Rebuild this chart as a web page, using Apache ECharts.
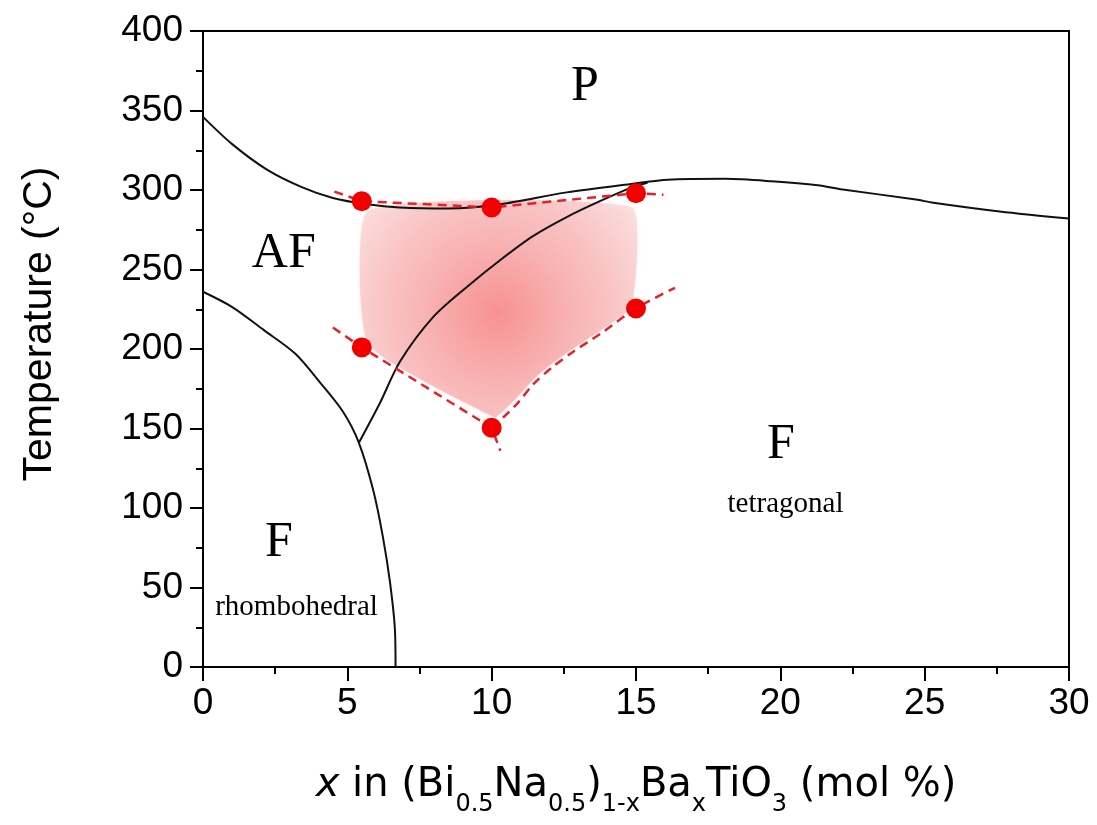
<!doctype html>
<html>
<head>
    <meta charset="utf-8">
    <title>BNT-BT phase diagram</title>
    <script src="https://cdn.jsdelivr.net/npm/echarts@6/dist/echarts.min.js"></script>
    <style>
        html, body { margin: 0; padding: 0; background: #fff; }
        #Chart { width: 1097px; height: 825px; }
    </style>
</head>
<body>
    <div id="Chart"></div>
<script>
    // phase boundaries, [x mol%, T degC]
    var pBoundary = [[0, 346], [1, 329], [2.2, 313], [3.4, 302], [4.5, 295], [5.7, 291], [6.8, 289], [8.5, 288.3],
        [10.3, 291], [12.6, 298.5], [14.9, 304], [16.1, 306.5], [18.1, 307], [19.7, 305.5], [21.3, 303],
        [22.1, 300.5], [24.7, 294], [25.3, 292], [27.6, 286.5], [30, 282]];
    var afBoundary = [[0, 236], [1, 226.5], [2.1, 212], [3.2, 197], [4.05, 179], [4.85, 160.5], [5.4, 141],
        [5.9, 111], [6.23, 82], [6.48, 53], [6.65, 23], [6.67, 0]];
    var mpbBoundary = [[5.4, 141], [6.13, 166], [6.82, 192], [7.97, 220], [9.14, 239], [10.3, 256],
        [11.43, 271], [12.6, 283], [13.75, 293], [14.9, 302], [15.4, 304.5]];

    // measured points and guide lines
    var measured = [[5.5, 293], [10, 289], [15, 298], [5.5, 201], [10, 150.5], [15, 225.5]];
    var upperGuide = [[4.55, 299], [5.5, 293], [10, 289], [15, 298], [15.95, 297]];
    var lowerLeftGuide = [[4.5, 213.5], [5.5, 201], [10, 150.5], [10.3, 136]];
    var lowerRightGuide = [[10, 150.5], [10.4, 157], [10.9, 166], [11.45, 178], [12.1, 188.5], [12.8, 198],
        [13.8, 210], [15, 225.5], [16.35, 238.5]];

    // shaded region
    var shadedRegion = [[5.72, 287], [14.86, 289], [14.86, 227], [13.8, 212], [12.8, 200], [12.1, 191],
        [11.45, 181], [10.9, 170], [10.4, 161], [10.1, 157], [5.72, 203]];
    var shadeCenter = [10.2, 223];

    // region labels
    var regionLabels = ['P', 'AF', 'F', 'F'];
    var regionLabelPos = [[13.23, 365], [2.8, 260], [2.63, 78], [20.02, 139.5]];
    var phaseNotes = ['rhombohedral', 'tetragonal'];
    var phaseNotePos = [[3.24, 37.5], [20.18, 102]];

    var xTicks = { min: 0, max: 30, interval: 5 };
    var yTicks = { min: 0, max: 400, interval: 50 };

    function labelData(names, pos) {
        var out = [];
        for (var i = 0; i < names.length; i++) {
            out.push({ name: names[i], value: pos[i] });
        }
        return out;
    }

    function blackLine(data) {
        return {
            type: 'line',
            data: data,
            smooth: 0.3,
            symbol: 'none',
            z: 3,
            lineStyle: { color: '#111', width: 2 }
        };
    }

    function redDash(data, smooth) {
        return {
            type: 'line',
            data: data,
            smooth: smooth,
            symbol: 'none',
            z: 4,
            lineStyle: { color: '#e8202a', width: 2.5, type: [9, 6] }
        };
    }

    var myChart = echarts.init(document.getElementById('Chart'));
    var sans = 'Liberation Sans, Arial, sans-serif';
    var serif = 'Liberation Serif, Times New Roman, serif';

    var option = {
        animation: false,
        grid: {
            left: 203, right: 28, top: 31, bottom: 158,
            show: true, borderColor: '#000', borderWidth: 2
        },
        xAxis: {
            type: 'value',
            min: xTicks.min, max: xTicks.max, interval: xTicks.interval,
            name: '{i|x} in (Bi{s|0.5}Na{s|0.5}){s|1-x}Ba{s|x}TiO{s|3} (mol %)',
            nameLocation: 'middle',
            nameGap: 88,
            nameTextStyle: {
                color: '#000', fontSize: 40, fontFamily: 'DejaVu Sans, sans-serif',
                rich: {
                    i: { fontSize: 40, fontStyle: 'italic', fontFamily: 'DejaVu Sans, sans-serif', color: '#000' },
                    s: { fontSize: 24, fontFamily: 'DejaVu Sans, sans-serif', color: '#000', padding: [38, 0, 0, 0] }
                }
            },
            axisLine: { lineStyle: { color: '#000', width: 2 } },
            axisTick: { length: 14, lineStyle: { color: '#000', width: 2 } },
            minorTick: { show: true, splitNumber: 2, length: 7, lineStyle: { color: '#000', width: 2 } },
            splitLine: { show: false },
            axisLabel: { color: '#000', fontSize: 37, fontFamily: sans, margin: 18, showMinLabel: true, showMaxLabel: true }
        },
        yAxis: {
            type: 'value',
            min: yTicks.min, max: yTicks.max, interval: yTicks.interval,
            name: 'Temperature (°C)',
            nameLocation: 'middle',
            nameGap: 143,
            nameTextStyle: { color: '#000', fontSize: 41, fontFamily: sans, padding: [0, 0, 0, 50] },
            axisLine: { lineStyle: { color: '#000', width: 2 } },
            axisTick: { length: 13, lineStyle: { color: '#000', width: 2 } },
            minorTick: { show: true, splitNumber: 2, length: 7, lineStyle: { color: '#000', width: 2 } },
            splitLine: { show: false },
            axisLabel: { color: '#000', fontSize: 37, fontFamily: sans, margin: 20, showMinLabel: true, showMaxLabel: true }
        },
        series: [
            {
                type: 'custom',
                data: shadedRegion,
                z: 2,
                silent: true,
                renderItem: function (params, api) {
                    if (params.dataIndex !== 0) return;
                    var pts = shadedRegion.map(function (p) { return api.coord(p); });
                    var c = api.coord(shadeCenter);
                    return {
                        type: 'polygon',
                        shape: { points: pts, smooth: 0.15 },
                        style: {
                            fill: new echarts.graphic.RadialGradient(c[0], c[1], 210, [
                                { offset: 0, color: 'rgba(246,135,135,0.9)' },
                                { offset: 0.55, color: 'rgba(248,182,182,0.75)' },
                                { offset: 1, color: 'rgba(252,232,232,0.6)' }
                            ], true),
                            shadowBlur: 5,
                            shadowColor: 'rgba(250,210,210,0.5)'
                        }
                    };
                }
            },
            blackLine(pBoundary),
            blackLine(afBoundary),
            blackLine(mpbBoundary),
            redDash(upperGuide, false),
            redDash(lowerLeftGuide, false),
            redDash(lowerRightGuide, 0.3),
            {
                type: 'scatter',
                data: measured,
                symbol: 'circle',
                symbolSize: 20,
                z: 5,
                itemStyle: { color: '#f20000', opacity: 1 }
            },
            {
                type: 'scatter',
                data: labelData(regionLabels, regionLabelPos),
                symbolSize: 1,
                itemStyle: { color: 'rgba(0,0,0,0)', opacity: 1 },
                z: 6,
                label: {
                    show: true, position: 'inside', formatter: '{b}', opacity: 1,
                    color: '#000', fontSize: 50, fontFamily: serif
                }
            },
            {
                type: 'scatter',
                data: labelData(phaseNotes, phaseNotePos),
                symbolSize: 1,
                itemStyle: { color: 'rgba(0,0,0,0)', opacity: 1 },
                z: 6,
                label: {
                    show: true, position: 'inside', formatter: '{b}', opacity: 1,
                    color: '#000', fontSize: 29, fontFamily: serif
                }
            }
        ]
    };
    myChart.setOption(option);
</script>
</body>
</html>
